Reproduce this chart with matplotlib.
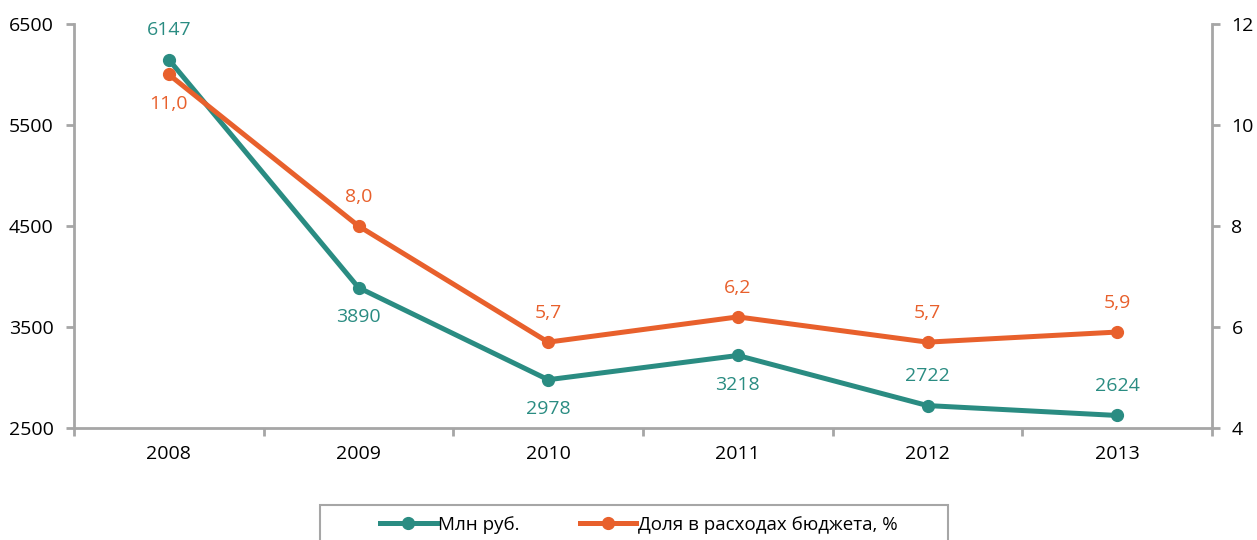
import matplotlib
matplotlib.use("Agg")
import matplotlib.pyplot as plt
from matplotlib.patches import Rectangle
from matplotlib.lines import Line2D

plt.rcParams['font.family'] = ['Open Sans', 'DejaVu Sans']

years = ['2008', '2009', '2010', '2011', '2012', '2013']
mln_rub = [6147, 3890, 2978, 3218, 2722, 2624]
share = [11.0, 8.0, 5.7, 6.2, 5.7, 5.9]
mln_labels = ['6147', '3890', '2978', '3218', '2722', '2624']
share_labels = ['11,0', '8,0', '5,7', '6,2', '5,7', '5,9']
mln_pos = ['above', 'below', 'below', 'below', 'above', 'above']
share_pos = ['below', 'above', 'above', 'above', 'above', 'above']
left_ticks = [2500, 3500, 4500, 5500, 6500]
right_ticks = [4, 6, 8, 10, 12]

teal = '#2A8C82'
orange = '#E8602C'
gray = '#A6A6A6'

W, H = 1257, 540
fig = plt.figure(figsize=(W / 100, H / 100), dpi=100)
ax = fig.add_axes([74 / W, 1 - 428 / H, (1212 - 74) / W, (428 - 24) / H])
ax2 = ax.twinx()

x = list(range(len(years)))
ax.plot(x, mln_rub, color=teal, lw=3.6, marker='o', ms=8.5, zorder=3, clip_on=False)
ax2.plot(x, share, color=orange, lw=3.6, marker='o', ms=8.5, zorder=3, clip_on=False)

ax.set_xlim(-0.5, len(years) - 0.5)
ax.set_ylim(2500, 6500)
ax2.set_ylim(4, 12)
ax.set_yticks(left_ticks)
ax2.set_yticks(right_ticks)
ax.set_xticks(x)
ax.set_xticklabels(years)
ax.set_xticks([i - 0.5 for i in range(len(years) + 1)], minor=True)

for a in (ax, ax2):
    for s in a.spines.values():
        s.set_color(gray)
        s.set_linewidth(2)
    a.spines['top'].set_visible(False)
ax.spines['right'].set_visible(False)
ax2.spines['left'].set_visible(False)
ax2.spines['bottom'].set_visible(False)

ax.tick_params(axis='y', direction='out', length=6, width=2, color=gray, labelsize=14, pad=8.5)
ax2.tick_params(axis='y', direction='out', length=6, width=2, color=gray, labelsize=14, pad=8)
ax.tick_params(axis='x', which='major', length=0, labelsize=14, pad=12)
ax.tick_params(axis='x', which='minor', direction='out', length=6, width=2, color=gray)

for i, (v, lab, p) in enumerate(zip(mln_rub, mln_labels, mln_pos)):
    off = 21 if p == 'above' else -21
    ax.annotate(lab, (i, v), xytext=(0, off), textcoords='offset points',
                ha='center', va='center', color=teal, fontsize=14)
for i, (v, lab, p) in enumerate(zip(share, share_labels, share_pos)):
    off = 21 if p == 'above' else -21
    ax2.annotate(lab, (i, v), xytext=(0, off), textcoords='offset points',
                 ha='center', va='center', color=orange, fontsize=14)

fig.patches.append(Rectangle((320 / W, -0.05), (948 - 320) / W, 0.05 + 1 - 505 / H,
                             transform=fig.transFigure, fill=False, edgecolor=gray, lw=1.5))
handles = [Line2D([], [], color=teal, lw=3.6, marker='o', ms=8.5),
           Line2D([], [], color=orange, lw=3.6, marker='o', ms=8.5)]
fig.legend(handles, ['Млн руб.', 'Доля в расходах бюджета, %'], loc='center',
           bbox_to_anchor=(639 / W, 1 - 525 / H), ncol=2, frameon=False, fontsize=13.5,
           handlelength=3.0, handletextpad=0.1, columnspacing=3.2)

fig.savefig('out.png', dpi=100)
